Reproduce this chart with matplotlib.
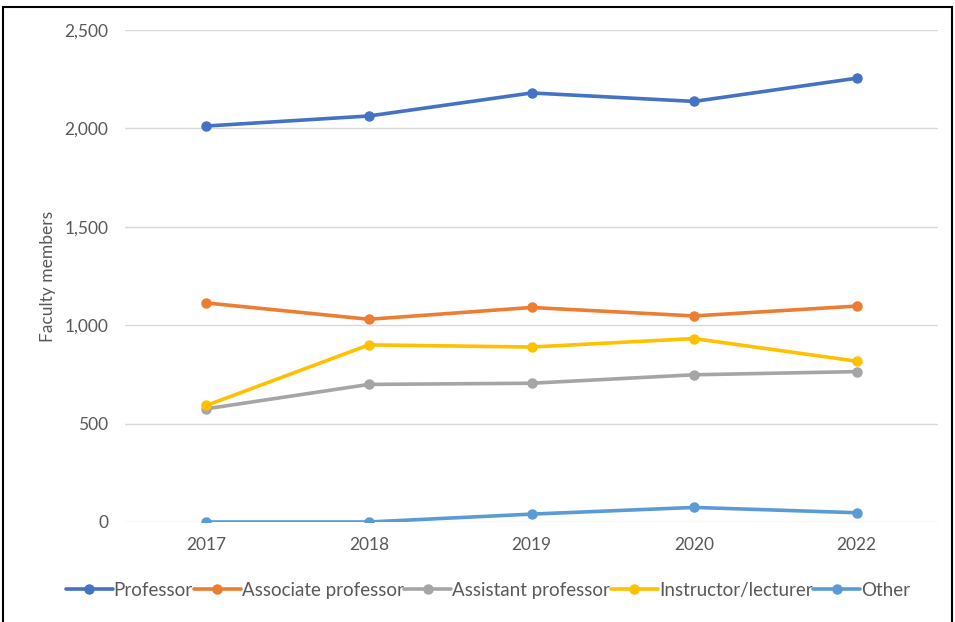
import matplotlib
matplotlib.use("Agg")
import matplotlib.pyplot as plt
from matplotlib.patches import Rectangle

# data
years = ["2017", "2018", "2019", "2020", "2022"]
professor = [2012, 2063, 2180, 2137, 2255]
associate = [1113, 1030, 1090, 1047, 1097]
assistant = [575, 699, 705, 748, 764]
instructor = [592, 900, 889, 932, 817]
other = [0, 0, 40, 74, 47]

series = [
    ("Professor", professor, "#4472C4"),
    ("Associate professor", associate, "#ED7D31"),
    ("Assistant professor", assistant, "#A5A5A5"),
    ("Instructor/lecturer", instructor, "#FFC000"),
    ("Other", other, "#5B9BD5"),
]
yticks = [0, 500, 1000, 1500, 2000, 2500]

plt.rcParams['font.family'] = ['Lato', 'DejaVu Sans']
text_col = "#595959"

fig = plt.figure(figsize=(9.55, 6.22), dpi=100, facecolor='w')
ax = fig.add_axes([0.1309, 0.1608, 0.8513, 0.791])

x = list(range(len(years)))
for name, vals, col in series:
    ax.plot(x, vals, color=col, linewidth=2.6, marker='o', markersize=6.5,
            label=name, solid_capstyle='round')

ax.set_xlim(-0.5, len(years) - 0.5)
ax.set_ylim(0, 2500)
ax.set_yticks(yticks)
ax.set_yticklabels(["{:,}".format(v) for v in yticks])
ax.set_xticks(x)
ax.set_xticklabels(years)
ax.tick_params(length=0, labelsize=12.5, colors=text_col)
ax.tick_params(axis='y', pad=12)
ax.tick_params(axis='x', pad=11)
ax.grid(axis='y', color='#D9D9D9', linewidth=1)
ax.set_axisbelow(True)
for s in ax.spines.values():
    s.set_visible(False)

ax.set_ylabel("Faculty members", fontsize=12.5, color=text_col, labelpad=6)

ax.legend(loc='center', bbox_to_anchor=(0.511, 0.051), bbox_transform=fig.transFigure,
          ncol=5, frameon=False, fontsize=13.5, labelcolor=text_col,
          handlelength=2.5, handletextpad=0.05, columnspacing=0.05,
          borderaxespad=0)

# outer frame
fig.patches.append(Rectangle((3 / 955, -0.05), 949 / 955, 1.05 - 7 / 622,
                             transform=fig.transFigure, fill=False,
                             edgecolor='black', linewidth=1.5))

fig.savefig("out.png", dpi=100, facecolor='w')
